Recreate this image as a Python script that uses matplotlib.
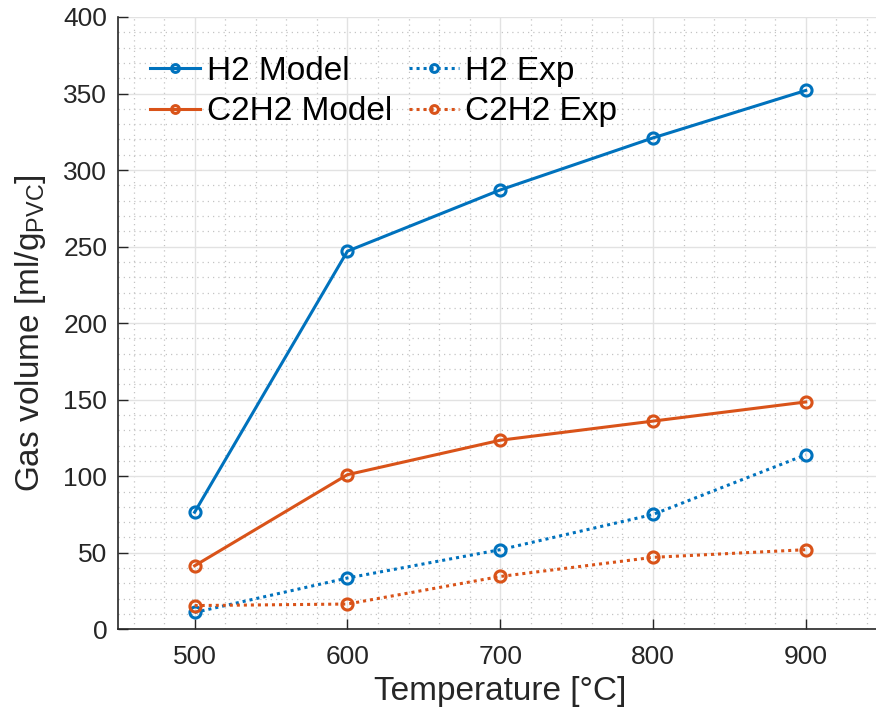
import matplotlib
matplotlib.use("Agg")
import matplotlib.pyplot as plt
from matplotlib.ticker import MultipleLocator

temps = [500, 600, 700, 800, 900]
h2_model = [76.5, 247, 287, 321, 352]
c2h2_model = [41.5, 101, 123.5, 136, 148.5]
h2_exp = [11, 33.5, 52, 75, 114]
c2h2_exp = [15.5, 16.5, 34.5, 47, 52]

blue = "#0072BD"
orange = "#D95319"
axc = "#262626"

plt.rcParams['font.family'] = ['Liberation Sans', 'DejaVu Sans']
plt.rcParams['mathtext.fontset'] = 'custom'
plt.rcParams['mathtext.rm'] = 'Liberation Sans'
plt.rcParams['mathtext.it'] = 'Liberation Sans'

fig = plt.figure(figsize=(8.76, 7.13), dpi=100)
ax = fig.add_axes([0.135, 0.1174, 0.872, 0.8588])

kw = dict(lw=2.2, marker='o', ms=8, mfc='none', mew=2.2)
dot = (0, (1, 1.3))
l1, = ax.plot(temps, h2_model, '-', color=blue, label='H2 Model', **kw)
l2, = ax.plot(temps, c2h2_model, '-', color=orange, label='C2H2 Model', **kw)
l3, = ax.plot(temps, h2_exp, ls=dot, color=blue, label='H2 Exp', **kw)
l4, = ax.plot(temps, c2h2_exp, ls=dot, color=orange, label='C2H2 Exp', **kw)

ax.set_xlim(450, 950)
ax.set_ylim(0, 400)
ax.set_xticks([500, 600, 700, 800, 900])
ax.set_yticks(range(0, 401, 50))
ax.xaxis.set_minor_locator(MultipleLocator(20))
ax.yaxis.set_minor_locator(MultipleLocator(10))

ax.grid(True, which='major', color='#e2e2e2', lw=1.0)
ax.grid(True, which='minor', color='#c4c4c4', lw=0.9, ls=(0, (1, 3.2)))
ax.set_axisbelow(True)

for s in ['top', 'right']:
    ax.spines[s].set_visible(False)
for s in ['left', 'bottom']:
    ax.spines[s].set_color(axc)
    ax.spines[s].set_linewidth(1.2)

ax.tick_params(which='major', direction='in', length=7, width=1.0, colors=axc,
               labelsize=19)
ax.tick_params(axis='x', pad=11)
ax.tick_params(axis='y', pad=8)
ax.tick_params(which='minor', length=0)

ax.set_xlabel('Temperature [°C]', fontsize=24, color=axc, va='top')
ax.xaxis.set_label_coords(0.5, -0.0762)
ax.set_ylabel('Gas volume [ml/g$_{\\mathrm{PVC}}$]', fontsize=24, color=axc)
ax.yaxis.set_label_coords(-0.092, 0.484)

leg = ax.legend(handles=[l1, l2, l3, l4], ncol=2, loc='upper left',
                bbox_to_anchor=(0.0415, 0.9363), frameon=False, fontsize=24,
                handlelength=1.5, handletextpad=0.2, columnspacing=0.5,
                labelspacing=0.28, borderpad=0, borderaxespad=0,
                markerscale=0.7)

fig.savefig('out.png', dpi=100)
